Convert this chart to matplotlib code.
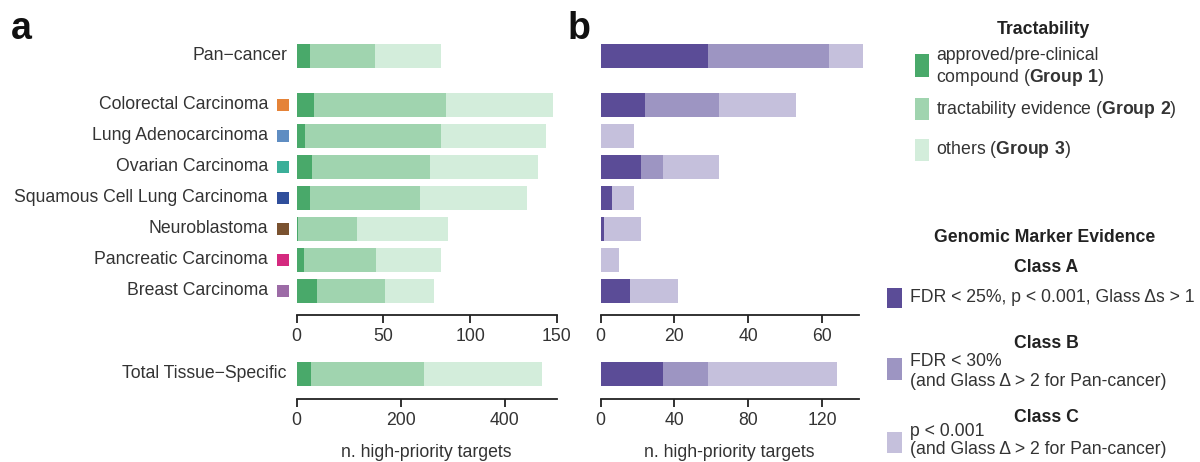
import matplotlib.pyplot as plt
import numpy as np
from matplotlib.patches import Rectangle
from matplotlib.transforms import ScaledTranslation

plt.rcParams["font.family"] = ["Liberation Sans", "DejaVu Sans"]
plt.rcParams["mathtext.fontset"] = "custom"
plt.rcParams["mathtext.rm"] = "Liberation Sans"
plt.rcParams["mathtext.bf"] = "Liberation Sans:bold"

# --- data ---
tissues = [
    "Colorectal Carcinoma",
    "Lung Adenocarcinoma",
    "Ovarian Carcinoma",
    "Squamous Cell Lung Carcinoma",
    "Neuroblastoma",
    "Pancreatic Carcinoma",
    "Breast Carcinoma",
]
tissue_colors = ["#E58338", "#5F8DC2", "#3BAF99", "#2F4E9B", "#7A5230", "#D42A7F", "#9C6BA6"]

# tractability groups (panel a)
group1 = [10, 5, 9, 8, 1, 4, 12]
group2 = [76, 78, 68, 63, 34, 42, 39]
group3 = [62, 61, 62, 62, 52, 37, 28]
pan_groups = [8, 37, 38]
total_groups = [27, 217, 227]

# genomic marker classes (panel b)
class_a = [12, 0, 11, 3, 1, 0, 8]
class_b = [20, 0, 6, 0, 0, 0, 0]
class_c = [21, 9, 15, 6, 10, 5, 13]
pan_classes = [29, 33, 9]
total_classes = [34, 24, 70]

green = ["#49A96A", "#A0D4AF", "#D3EDDB"]
purple = ["#5B4C97", "#9D95C2", "#C5C0DC"]

W, H = 1200, 462
FS = 12.7
TXT = "#333333"
DARK = "#222222"
ROW = 31.0  # px per row unit

fig = plt.figure(figsize=(W / 100, H / 100), dpi=100)


def px_axes(x0, y0, x1, y1):
    return fig.add_axes([x0 / W, 1 - y1 / H, (x1 - x0) / W, (y1 - y0) / H])


def fig_text(x, y, s, **kw):
    kw.setdefault("fontsize", FS)
    kw.setdefault("color", TXT)
    fig.text(x / W, 1 - y / H, s, **kw)


def fig_square(x0, y0, x1, y1, color):
    fig.add_artist(Rectangle((x0 / W, 1 - y1 / H), (x1 - x0) / W, (y1 - y0) / H,
                             transform=fig.transFigure, color=color, lw=0))


def style_axis(ax, xmax, ticks, ylim):
    ax.set_xlim(0, xmax)
    ax.set_ylim(*ylim)
    ax.set_xticks(ticks)
    for s in ["top", "right", "left"]:
        ax.spines[s].set_visible(False)
    ax.spines["bottom"].set_linewidth(1.3)
    ax.spines["bottom"].set_color(DARK)
    ax.tick_params(axis="x", length=5.5, width=1.3, pad=4, labelsize=FS,
                   labelcolor=TXT, color=DARK)
    ax.tick_params(axis="y", left=False, labelleft=False)
    ax.patch.set_alpha(0)


def stacked(ax, ys, parts, colors):
    left = np.zeros(len(ys))
    for vals, c in zip(parts, colors):
        vals = np.asarray(vals, dtype=float)
        ax.barh(ys, vals, left=left, height=0.8, color=c, linewidth=0, clip_on=False)
        left += vals


# row positions: pan-cancer on top, a gap, then the tissues
pan_y = 0.0
tissue_y = 1.58 + np.arange(len(tissues))
top_ylim = ((315 - 56) / ROW, (40 - 56) / ROW)
bot_ylim = ((399 - 374) / ROW, (358 - 374) / ROW)

ax_a = px_axes(296.6, 40, 556.8, 315)
ax_b = px_axes(600.5, 40, 859, 315)
ax_a2 = px_axes(296.6, 358, 556.8, 399)
ax_b2 = px_axes(600.5, 358, 859, 399)

# panel a
stacked(ax_a, [pan_y], [[v] for v in pan_groups], green)
stacked(ax_a, tissue_y, [group1, group2, group3], green)
style_axis(ax_a, 150, [0, 50, 100, 150], top_ylim)

stacked(ax_a2, [0], [[v] for v in total_groups], green)
style_axis(ax_a2, 500, [0, 200, 400], bot_ylim)
ax_a2.set_xlabel("n. high-priority targets", fontsize=FS, color=TXT, labelpad=11)

# panel b
stacked(ax_b, [pan_y], [[v] for v in pan_classes], purple)
stacked(ax_b, tissue_y, [class_a, class_b, class_c], purple)
style_axis(ax_b, 70, [0, 20, 40, 60], top_ylim)

stacked(ax_b2, [0], [[v] for v in total_classes], purple)
style_axis(ax_b2, 140, [0, 40, 80, 120], bot_ylim)
ax_b2.set_xlabel("n. high-priority targets", fontsize=FS, color=TXT, labelpad=11)


# row labels left of panel a
def shifted(ax, dx_px):
    return ax.get_yaxis_transform() + ScaledTranslation(dx_px / 100, 0, fig.dpi_scale_trans)


ax_a.text(0, pan_y, "Pan\u2212cancer", transform=shifted(ax_a, -9.6),
          ha="right", va="center", fontsize=FS, color=TXT)
for name, y in zip(tissues, tissue_y):
    ax_a.text(0, y, name, transform=shifted(ax_a, -28.6),
              ha="right", va="center", fontsize=FS, color=TXT)
ax_a.scatter(np.zeros(len(tissues)), tissue_y, transform=shifted(ax_a, -13.6),
             marker="s", s=72, c=tissue_colors, linewidths=0, clip_on=False)
ax_a2.text(0, 0, "Total Tissue\u2212Specific", transform=shifted(ax_a2, -9.6),
           ha="right", va="center", fontsize=FS, color=TXT)

# panel letters
fig_text(11, 39, "a", fontsize=27, fontweight="bold", color="#111111", va="baseline")
fig_text(568, 39, "b", fontsize=27, fontweight="bold", color="#111111", va="baseline")

# legend: tractability
fig_text(1043, 29, "Tractability", fontweight="bold", color=DARK, ha="center", va="center")
fig_square(915, 54, 929, 77, green[0])
fig_text(936, 56, "approved/pre-clinical", va="center")
fig_text(936, 77, "compound ($\\mathbf{Group\\ 1}$)", va="center")
fig_square(915, 98, 929, 120, green[1])
fig_text(936, 109, "tractability evidence ($\\mathbf{Group\\ 2}$)", va="center")
fig_square(915, 139, 929, 161, green[2])
fig_text(936, 150, "others ($\\mathbf{Group\\ 3}$)", va="center")

# legend: genomic marker evidence
fig_text(1045, 238, "Genomic Marker Evidence", fontweight="bold", color=DARK, ha="center", va="center")
fig_text(1046, 268, "Class A", fontweight="bold", color=DARK, ha="center", va="center")
fig_square(887, 288, 902, 308, purple[0])
fig_text(910, 298, "FDR < 25%, p < 0.001, Glass \u0394s > 1", va="center")

fig_text(1046, 343, "Class B", fontweight="bold", color=DARK, ha="center", va="center")
fig_square(887, 358, 902, 380, purple[1])
fig_text(910, 362, "FDR < 30%", va="center")
fig_text(910, 382, "(and Glass \u0394 > 2 for Pan-cancer)", va="center")

fig_text(1046, 418, "Class C", fontweight="bold", color=DARK, ha="center", va="center")
fig_square(887, 432, 902, 453, purple[2])
fig_text(910, 432, "p < 0.001", va="center")
fig_text(910, 450, "(and Glass \u0394 > 2 for Pan-cancer)", va="center")

fig.savefig("out.png", dpi=100)
